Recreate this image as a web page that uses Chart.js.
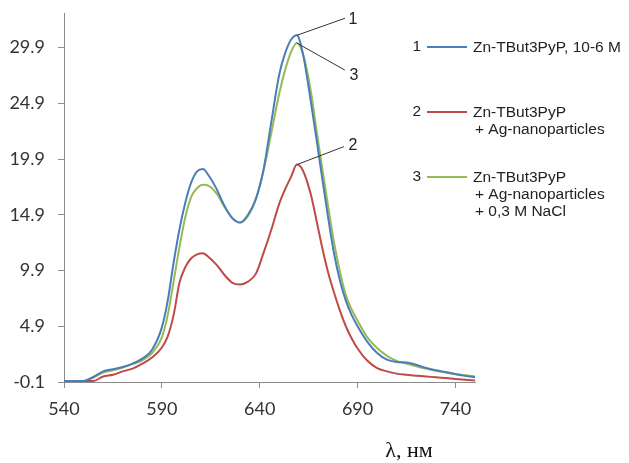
<!DOCTYPE html>
<html>
<head>
<meta charset="utf-8">
<script src="https://cdn.jsdelivr.net/npm/chart.js@4/dist/chart.umd.min.js"></script>
<style>
  html, body { margin: 0; padding: 0; background: #fff; }
  #wrap { width: 629px; height: 463px; }
</style>
</head>
<body>
<div id="wrap"><canvas id="chart" width="629" height="463"></canvas></div>
<script>
// wavelength, nm
const wavelengths = [540, 550, 555, 560, 565, 570, 575, 580, 585, 590, 593, 596, 599, 602, 605, 608, 611, 614, 618, 622, 626, 630, 634, 638, 642, 646, 650, 653, 656, 659, 662, 666, 669, 672, 675, 678, 681, 684, 687, 690, 695, 700, 705, 710, 715, 720, 725, 730, 735, 740, 745, 750];

// 1 - Zn-TBut3PyP, 10-6 M
const series1 = [0, 0, 0.35, 0.85, 1.05, 1.25, 1.55, 2.0, 2.8, 4.8, 7.2, 10.6, 13.6, 16.0, 17.8, 18.8, 19.0, 18.4, 17.2, 15.7, 14.6, 14.2, 14.9, 16.3, 19.0, 23.3, 27.5, 29.4, 30.6, 31.0, 29.4, 25.2, 21.7, 18.1, 14.6, 11.4, 9.0, 7.2, 5.9, 4.9, 3.5, 2.5, 1.9, 1.7, 1.65, 1.45, 1.15, 0.95, 0.8, 0.6, 0.45, 0.33];
// 2 - + Ag-nanoparticles
const series2 = [0, 0, 0, 0.4, 0.55, 0.85, 1.1, 1.55, 2.1, 3.0, 4.0, 5.9, 8.8, 10.2, 11.0, 11.35, 11.46, 11.1, 10.4, 9.5, 8.8, 8.65, 8.9, 9.6, 11.5, 13.6, 15.9, 17.2, 18.3, 19.4, 18.9, 16.8, 14.4, 11.9, 9.7, 7.9, 6.3, 4.9, 3.8, 2.9, 1.8, 1.15, 0.85, 0.65, 0.55, 0.47, 0.4, 0.32, 0.25, 0.17, 0.1, 0.03];
// 3 - + Ag-nanoparticles + 0,3 M NaCl
const series3 = [0, 0, 0.3, 0.75, 0.95, 1.2, 1.5, 1.85, 2.5, 3.9, 5.9, 8.9, 12.0, 14.7, 16.5, 17.3, 17.6, 17.5, 16.8, 15.6, 14.6, 14.2, 14.8, 16.3, 18.9, 22.3, 25.8, 27.9, 29.5, 30.3, 29.4, 26.1, 22.5, 19.0, 15.6, 12.4, 9.8, 7.7, 6.4, 5.4, 3.9, 2.95, 2.25, 1.8, 1.55, 1.3, 1.1, 0.9, 0.75, 0.62, 0.5, 0.4];

const xTicks = [540, 590, 640, 690, 740];
const yTicks = [-0.1, 4.9, 9.9, 14.9, 19.9, 24.9, 29.9];

const seriesNumbers = ['1', '2', '3'];
const seriesLabels = [
  ['Zn-TBut3PyP, 10-6 M'],
  ['Zn-TBut3PyP', '+ Ag-nanoparticles'],
  ['Zn-TBut3PyP', '+ Ag-nanoparticles', '+ 0,3 M NaCl']
];
const colors = ['#4a7ebb', '#be4b48', '#98b954'];
const xTitle = 'λ, нм';

const toPoints = vals => wavelengths.map((w, i) => ({ x: w, y: vals[i] }));

// leader lines from each peak to its number
const callouts = [
  { ds: 0, dx: 48, dy: -17, lx: 56, ly: -16 },
  { ds: 1, dx: 47, dy: -18, lx: 56, ly: -19 },
  { ds: 2, dx: 48, dy: 27, lx: 57, ly: 32 }
];

const extras = {
  id: 'extras',
  afterDraw(chart) {
    const ctx = chart.ctx;
    const xs = chart.scales.x, ys = chart.scales.y;
    const all = [series1, series2, series3];
    ctx.save();

    // callouts
    ctx.strokeStyle = '#333';
    ctx.lineWidth = 1;
    ctx.fillStyle = '#222';
    ctx.font = '16px "Liberation Sans", Arial, sans-serif';
    ctx.textAlign = 'center';
    ctx.textBaseline = 'middle';
    callouts.forEach(c => {
      const vals = all[c.ds];
      let k = 0;
      vals.forEach((v, i) => { if (v > vals[k]) k = i; });
      const px = xs.getPixelForValue(wavelengths[k]);
      const py = ys.getPixelForValue(vals[k]);
      ctx.beginPath();
      ctx.moveTo(px, py);
      ctx.lineTo(px + c.dx, py + c.dy);
      ctx.stroke();
      ctx.fillText(seriesNumbers[c.ds], px + c.lx, py + c.ly);
    });

    // legend
    const rows = [47, 112, 177];
    ctx.font = '15.5px "Liberation Sans", Arial, sans-serif';
    rows.forEach((y, i) => {
      ctx.fillStyle = '#222';
      ctx.textAlign = 'right';
      ctx.fillText(seriesNumbers[i], 421, y);
      ctx.strokeStyle = colors[i];
      ctx.lineWidth = 2;
      ctx.beginPath();
      ctx.moveTo(427, y);
      ctx.lineTo(467, y);
      ctx.stroke();
      ctx.textAlign = 'left';
      seriesLabels[i].forEach((t, j) => {
        ctx.fillText(t, j === 0 ? 473 : 475, y + 1 + j * 17);
      });
    });

    // axis title
    ctx.font = '22px "Liberation Serif", "Times New Roman", serif';
    ctx.fillStyle = '#111';
    ctx.textAlign = 'center';
    ctx.fillText(xTitle, 409, 451);
    ctx.restore();
  }
};

const tickFont = { family: 'Lato, "Open Sans", sans-serif', size: 18 };

new Chart(document.getElementById('chart'), {
  type: 'line',
  data: {
    datasets: [series1, series2, series3].map((vals, i) => ({
      label: seriesLabels[i].join(' '),
      data: toPoints(vals),
      borderColor: colors[i],
      borderWidth: 2,
      pointRadius: 0,
      fill: false,
      cubicInterpolationMode: 'monotone'
    }))
  },
  options: {
    responsive: false,
    animation: false,
    layout: { padding: { top: 13, right: 154, left: 0, bottom: 0 } },
    plugins: {
      legend: { display: false },
      tooltip: { enabled: false }
    },
    scales: {
      x: {
        type: 'linear',
        min: 540,
        max: 750,
        afterBuildTicks: s => { s.ticks = xTicks.map(v => ({ value: v })); },
        afterFit: s => { s.height = 81; s.paddingLeft = 0; s.paddingRight = 0; },
        grid: { drawOnChartArea: false, tickLength: 6, color: '#8c8c8c' },
        border: { color: '#8c8c8c' },
        ticks: { autoSkip: false, maxRotation: 0, padding: 10, color: '#333', font: tickFont, callback: v => String(v) }
      },
      y: {
        type: 'linear',
        min: -0.1,
        max: 33,
        afterBuildTicks: s => { s.ticks = yTicks.map(v => ({ value: v })); },
        afterFit: s => { s.width = 64; s.paddingTop = 0; s.paddingBottom = 0; },
        grid: { drawOnChartArea: false, tickLength: 6, color: '#8c8c8c' },
        border: { color: '#8c8c8c' },
        ticks: { padding: 13, color: '#333', font: tickFont, callback: v => Number(v).toFixed(1) }
      }
    }
  },
  plugins: [extras]
});
</script>
</body>
</html>
